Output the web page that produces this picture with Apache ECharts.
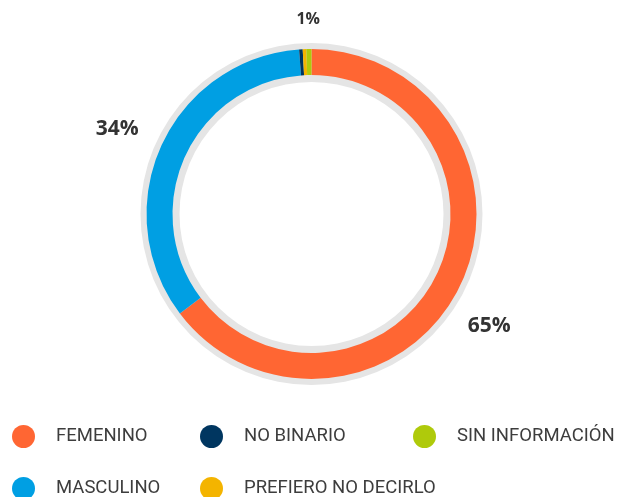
<!DOCTYPE html>
<html>
<head>
<meta charset="utf-8">
<script src="https://cdn.jsdelivr.net/npm/echarts@6/dist/echarts.min.js"></script>
<style>
  html, body { margin: 0; padding: 0; background: #fff; }
  #chart { width: 631px; height: 497px; }
</style>
</head>
<body>
<div id="chart"></div>
<script>
const categories = ["FEMENINO", "MASCULINO", "NO BINARIO", "PREFIERO NO DECIRLO", "SIN INFORMACIÓN"];
const shares = [64.7, 34.1, 0.35, 0.35, 0.5];
const colors = ["#ff6633", "#009fe3", "#003660", "#f4b400", "#afca0b"];
// legend columns (indexes into categories)
const legendColumns = [[0, 1], [2, 3], [4]];
const legendLefts = [12, 200, 413];
// small nudges [dx, dy] for the value labels
const labelNudge = [[-12, 18], [-1, 2], [0, 0], [0, 0], [0, 17]];

const chart = echarts.init(document.getElementById("chart"));
const center = [311.5, 214];

const pctText = (i) => {
  const v = Math.round(shares[i]);
  return v >= 1 ? v + "%" : "";
};

const option = {
  backgroundColor: "#fff",
  animation: false,
  legend: legendColumns.map((col, k) => ({
    orient: "vertical",
    left: legendLefts[k],
    top: 425,
    height: 90,
    padding: 0,
    itemWidth: 23,
    itemHeight: 23,
    itemGap: 29,
    icon: "circle",
    selectedMode: false,
    data: col.map((i) => categories[i]),
    textStyle: {
      fontFamily: "Roboto, sans-serif",
      fontSize: 18.5,
      color: "#3d3d3d",
      padding: [0, 0, 0, 16],
    },
  })),
  series: [
    {
      // grey track behind the ring
      type: "pie",
      silent: true,
      center: center,
      radius: [132, 171],
      label: { show: false },
      labelLine: { show: false },
      itemStyle: { color: "#e5e5e5" },
      data: [{ value: 1 }],
    },
    {
      type: "pie",
      silent: true,
      center: center,
      radius: [139, 165],
      startAngle: 90,
      label: { show: false },
      labelLine: { show: false },
      data: categories.map((name, i) => ({
        name: name,
        value: shares[i],
        itemStyle: { color: colors[i] },
      })),
    },
    {
      // invisible ring that only carries the percentage labels
      type: "pie",
      silent: true,
      center: center,
      radius: [200, 218],
      startAngle: 90,
      itemStyle: { color: "rgba(0,0,0,0)" },
      labelLine: { show: false },
      label: {
        show: true,
        position: "inside",
        fontFamily: "'Open Sans', sans-serif",
        fontWeight: "bold",
        color: "#333",
        formatter: (p) => pctText(p.dataIndex),
      },
      labelLayout: (p) => ({
        dx: labelNudge[p.dataIndex][0],
        dy: labelNudge[p.dataIndex][1],
      }),
      data: shares.map((v) => ({
        value: v,
        label: { fontSize: v < 1 ? 16 : 21 },
      })),
    },
  ],
};

chart.setOption(option);
</script>
</body>
</html>
